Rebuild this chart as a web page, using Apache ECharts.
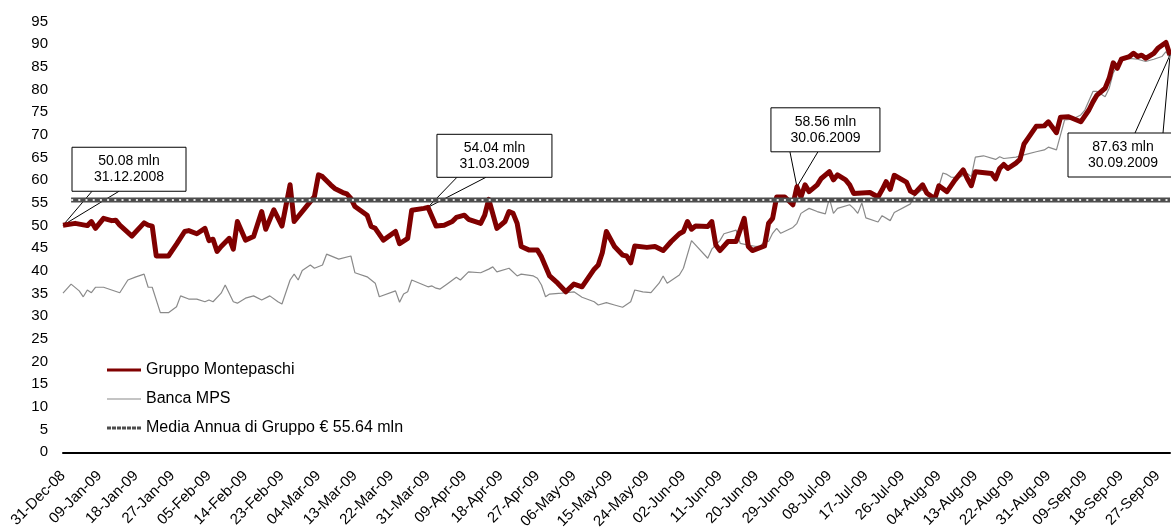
<!DOCTYPE html>
<html>
<head>
<meta charset="utf-8">
<script src="https://cdn.jsdelivr.net/npm/echarts@6/dist/echarts.min.js"></script>
<style>
  html, body { margin: 0; padding: 0; background: #fff; }
  #chart { width: 1171px; height: 530px; }
</style>
</head>
<body>
<div id="chart"></div>
<script>
// Days are counted from 31-Dec-2008 (day 0) to 30-Sep-2009 (day 273); values in € mln.
const groupDays = [0,3,6,7,8,10,12,13,14,17,20,21,22,23,26,28,30,31,33,35,36,37,38,39,41,42,43,45,47,49,50,52,54,56,57,62,63,64,66,67,69,70,71,72,75,76,77,79,82,83,85,86,89,90,92,94,96,97,99,100,103,104,105,107,109,110,111,112,113,115,117,118,120,122,124,126,128,131,132,133,134,136,138,139,140,141,144,146,148,150,152,153,154,155,156,159,160,161,162,164,166,168,169,170,173,174,175,176,178,180,181,182,183,184,186,187,189,190,191,193,194,195,199,201,202,203,204,205,208,209,210,212,213,215,216,218,220,222,223,224,225,229,230,231,232,233,235,236,237,238,240,242,243,245,246,248,251,253,254,255,257,258,259,260,261,263,264,265,266,267,269,270,272,273];
const groupValues = [50.08,50.5,50.0,50.9,49.4,51.6,51.1,51.2,50.1,47.7,50.6,50.1,49.9,43.3,43.3,45.9,48.7,48.9,48.2,49.4,46.7,47.0,44.3,45.4,47.2,44.8,50.9,46.8,47.6,53.1,49.2,53.5,49.9,59.0,50.9,56.4,61.2,60.8,59.0,58.2,57.3,57.0,56.0,54.2,52.3,49.8,49.4,46.8,48.7,46.0,47.2,53.4,53.8,54.04,49.9,50.1,50.9,51.8,52.3,51.4,50.5,52.3,55.8,49.4,50.9,53.1,52.7,50.5,45.4,44.6,44.6,43.1,38.9,37.3,35.4,37.1,36.5,40.4,41.3,44.0,48.7,45.4,43.5,43.3,41.8,45.5,45.2,45.4,44.5,46.5,48.2,48.7,50.9,49.2,49.9,49.8,50.9,45.7,44.5,46.5,46.5,51.6,45.4,44.5,45.5,50.5,51.6,56.3,56.3,54.6,58.56,56.3,59.0,57.5,59.0,60.4,61.9,60.1,61.2,60.1,59.0,57.1,57.3,56.3,57.9,59.7,58.0,61.1,59.6,57.6,57.1,59.0,57.2,55.9,58.8,57.5,60.1,62.3,60.4,58.8,61.9,61.5,60.3,62.6,63.5,62.6,63.8,64.6,68.0,69.3,71.9,72.0,72.9,70.5,73.9,74.0,72.9,75.5,77.3,78.8,80.3,82.5,85.9,84.7,86.7,87.3,88.0,87.3,87.6,86.9,88.0,89.1,90.4,87.63];

const bankDays = [0,2,4,5,6,7,8,10,12,14,16,18,20,21,22,24,26,28,29,31,33,35,36,37,39,40,42,43,45,47,49,51,53,54,56,57,58,59,61,62,64,65,68,71,72,75,77,78,82,83,84,85,86,90,91,92,93,95,97,98,100,103,105,106,107,110,112,113,116,117,118,119,120,123,126,128,131,132,134,136,138,140,141,143,145,147,148,149,152,153,155,159,160,162,163,166,167,169,171,172,173,174,175,176,177,180,181,182,183,184,186,188,189,190,191,194,195,196,197,198,201,202,204,205,209,210,212,213,215,217,218,219,221,223,224,225,227,230,231,232,235,237,240,242,243,245,246,247,249,251,252,254,255,257,258,259,261,263,265,267,269,271,272,273];
const bankValues = [35.1,37.1,35.6,34.3,35.8,35.2,36.4,36.4,35.8,35.2,38.0,38.7,39.3,36.4,36.4,30.8,30.8,32.1,34.5,33.8,33.8,33.2,33.6,33.2,35.1,36.9,33.2,32.9,34.0,34.5,33.6,34.5,33.2,32.7,38.0,39.3,38.0,40.1,41.3,40.6,41.3,43.7,42.6,43.3,39.6,38.7,37.3,34.3,35.6,33.1,34.9,35.4,38.0,36.5,36.7,36.2,36.0,37.3,38.6,38.0,39.8,39.6,40.4,40.9,39.8,40.6,38.9,39.3,38.9,38.4,36.9,34.3,34.9,35.1,35.4,34.2,33.2,32.5,33.0,32.5,32.0,33.2,35.8,35.4,35.2,37.3,38.9,37.3,39.1,40.6,46.7,42.8,44.8,46.7,48.2,49.0,46.1,45.7,45.4,45.5,46.5,46.5,48.3,49.4,48.3,49.6,50.5,52.7,53.3,53.8,53.1,52.6,56.0,52.7,53.8,54.6,53.8,52.7,55.0,51.7,50.8,52.2,51.1,52.9,54.8,56.6,58.0,57.2,55.7,61.6,61.3,60.7,60.6,61.5,60.8,65.1,65.4,64.6,65.2,64.8,65.1,65.6,66.3,66.7,67.3,66.7,70.0,73.3,73.5,74.4,75.5,79.6,79.6,78.4,80.3,83.7,86.7,86.9,86.7,86.2,86.7,87.3,88.4,86.9];

// Group yearly average, drawn as a flat reference line
const averageValue = 55.64;
const averageDays = [2, 273];

// Period-end call-outs on the group series
const calloutDays = [0, 90, 181, 273];
const calloutValues = [50.08, 54.04, 58.56, 87.63];
const calloutDates = ['31.12.2008', '31.03.2009', '30.06.2009', '30.09.2009'];

const seriesNames = ['Gruppo Montepaschi', 'Banca MPS', 'Media Annua di Gruppo € ' + averageValue.toFixed(2) + ' mln'];

const monthNames = ['Jan','Feb','Mar','Apr','May','Jun','Jul','Aug','Sep','Oct','Nov','Dec'];
function dayLabel(d) {
  const dt = new Date(Date.UTC(2008, 11, 31 + d));
  const dd = String(dt.getUTCDate()).padStart(2, '0');
  return dd + '-' + monthNames[dt.getUTCMonth()] + '-' + String(dt.getUTCFullYear()).slice(2);
}
const zip = (xs, ys) => xs.map((x, i) => [x, ys[i]]);

const FONT = 'Liberation Sans, Arial, sans-serif';
const RED = '#800000';
const GREY = '#8a8a8a';
const DARK = '#4d4d4d';

// Legend swatches: flat bars (solid, thin, dashed), kept at their own aspect ratio
const dashedSwatch = 'path://' + Array.from({ length: 7 }, (_, k) => 'M' + (k * 5) + ',0h4v3h-4z').join('');
const legendIcons = [
  'path://M0,0H34V3H0Z',
  'path://M0,0H34V1.2H0Z',
  dashedSwatch
];

const chart = echarts.init(document.getElementById('chart'), null, { renderer: 'canvas' });

chart.setOption({
  animation: false,
  backgroundColor: '#fff',
  textStyle: { fontFamily: FONT },
  grid: { left: 63, right: 1, top: 21.6, bottom: 77.7, outerBoundsMode: 'none', containLabel: false },
  legend: {
    orient: 'vertical',
    left: 107,
    top: 362,
    padding: 0,
    itemWidth: 34,
    itemHeight: 14,
    itemGap: 13,
    symbolKeepAspect: true,
    selectedMode: false,
    textStyle: { fontFamily: FONT, fontSize: 16, color: '#000' },
    data: [
      { name: seriesNames[0], icon: legendIcons[0], itemStyle: { color: RED, borderWidth: 0 } },
      { name: seriesNames[1], icon: legendIcons[1], itemStyle: { color: GREY, borderWidth: 0 } },
      { name: seriesNames[2], icon: legendIcons[2], itemStyle: { color: DARK, borderWidth: 0 } }
    ]
  },
  xAxis: {
    type: 'value',
    min: 0,
    max: 273,
    interval: 9,
    axisLine: { show: true, onZero: true, lineStyle: { color: '#000', width: 2 } },
    axisTick: { show: false },
    splitLine: { show: false },
    axisLabel: {
      rotate: 45,
      margin: 21,
      fontSize: 15,
      fontFamily: FONT,
      color: '#000',
      showMaxLabel: false,
      formatter: v => (v % 9 === 0 ? dayLabel(v) : '')
    }
  },
  yAxis: {
    type: 'value',
    min: 0,
    max: 95,
    interval: 5,
    axisLine: { show: false },
    axisTick: { show: false },
    splitLine: { show: false },
    axisLabel: { margin: 15, fontSize: 15, fontFamily: FONT, color: '#000' }
  },
  series: [
    {
      name: seriesNames[1], type: 'line', symbol: 'none', z: 2,
      lineStyle: { color: GREY, width: 1.2 }, itemStyle: { color: GREY },
      data: zip(bankDays, bankValues)
    },
    {
      name: seriesNames[0], type: 'line', symbol: 'none', z: 3,
      lineStyle: { color: RED, width: 5, join: 'round' }, itemStyle: { color: RED },
      data: zip(groupDays, groupValues)
    },
    {
      name: seriesNames[2], type: 'line', symbol: 'none', z: 4,
      lineStyle: { color: DARK, width: 5 }, itemStyle: { color: DARK },
      data: averageDays.map(d => [d, averageValue])
    },
    {
      name: seriesNames[2], type: 'line', symbol: 'none', z: 5,
      lineStyle: { color: '#e6e6e6', width: 2, type: [2, 5.2] }, itemStyle: { color: DARK },
      data: averageDays.map(d => [d, averageValue])
    }
  ]
});

// Call-out boxes: box offset/size and wedge base points relative to the anchored data point.
const calloutLayout = [
  { box: [9, -78, 114, 44], base: [[29, -34], [56, -34]] },
  { box: [9, -73, 115, 43], base: [[29, -30], [58, -30]] },
  { box: [-26, -79, 109, 44], base: [[-7, -35], [21, -35]] },
  { box: [-102, 78, 110, 44], base: [[-35, 78], [-7, 78]] }
];

const graphics = calloutDays.map((d, i) => {
  const p = chart.convertToPixel({ xAxisIndex: 0, yAxisIndex: 0 }, [d, calloutValues[i]]);
  const L = calloutLayout[i];
  const [bx, by, bw, bh] = L.box;
  return {
    type: 'group',
    x: p[0],
    y: p[1],
    z: 100,
    children: [
      {
        type: 'polyline',
        shape: { points: [L.base[0], [0, 0], L.base[1]] },
        style: { stroke: '#000', lineWidth: 1, fill: null }
      },
      {
        type: 'rect',
        shape: { x: bx, y: by, width: bw, height: bh },
        style: { fill: '#fff', stroke: '#000', lineWidth: 1 }
      },
      {
        type: 'text',
        x: bx + bw / 2,
        y: by + bh / 2,
        style: {
          text: calloutValues[i].toFixed(2) + ' mln\n' + calloutDates[i],
          align: 'center',
          verticalAlign: 'middle',
          fontSize: 14,
          fontFamily: FONT,
          lineHeight: 16,
          fill: '#000'
        }
      }
    ]
  };
});

chart.setOption({ graphic: graphics });
</script>
</body>
</html>
